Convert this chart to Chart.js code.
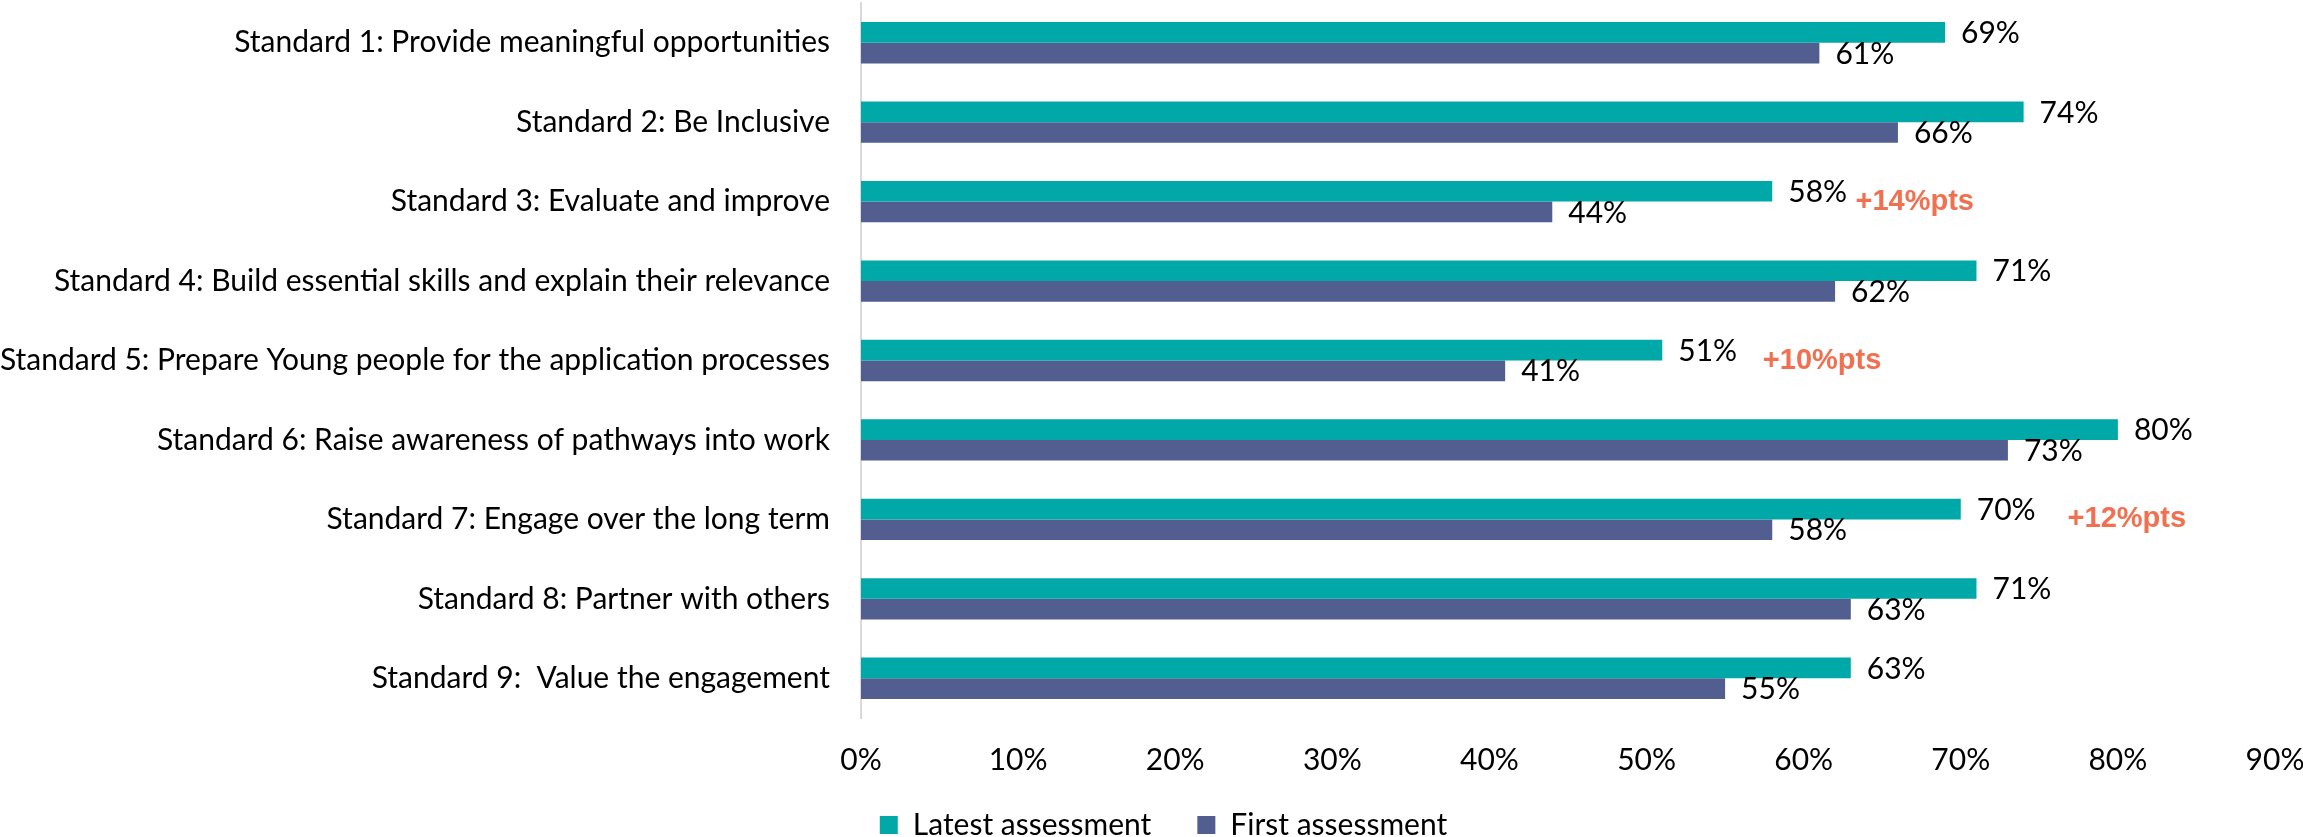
<!DOCTYPE html>
<html>
<head>
<meta charset="utf-8">
<script src="https://cdn.jsdelivr.net/npm/chart.js@4.4.1/dist/chart.umd.min.js"></script>
<style>
  html, body { margin: 0; padding: 0; background: #ffffff; }
  canvas { display: block; }
</style>
</head>
<body>
<canvas id="chart" width="2303" height="837"></canvas>
<script>
// categories (top to bottom)
const standards = [
    'Standard 1: Provide meaningful opportunities',
    'Standard 2: Be Inclusive',
    'Standard 3: Evaluate and improve',
    'Standard 4: Build essential skills and explain their relevance',
    'Standard 5: Prepare Young people for the application processes',
    'Standard 6: Raise awareness of pathways into work',
    'Standard 7: Engage over the long term',
    'Standard 8: Partner with others',
    'Standard 9:  Value the engagement',
];

// series values (%)
const latestAssessment = [69, 74, 58, 71, 51, 80, 70, 71, 63];
const firstAssessment = [61, 66, 44, 62, 41, 73, 58, 63, 55];

// x axis ticks
const tickValues = [0, 10, 20, 30, 40, 50, 60, 70, 80, 90];

// highlighted gains, placed at a category and an x value
const gainCategory = [2, 4, 6];
const gainText = ['+14%pts', '+10%pts', '+12%pts'];
const gainAt = [63.3, 57.4, 76.8];

const FONT = 'Lato, Carlito, Calibri, sans-serif';
const LEGEND_PAD = 46;

const valueLabels = {
    id: 'valueLabels',
    afterDatasetsDraw(chart) {
        const ctx = chart.ctx;
        ctx.save();
        ctx.font = '30px ' + FONT;
        ctx.fillStyle = '#000000';
        ctx.textAlign = 'left';
        ctx.textBaseline = 'middle';
        chart.data.datasets.forEach((ds, i) => {
            chart.getDatasetMeta(i).data.forEach((bar, j) => {
                ctx.fillText(ds.data[j] + '%', bar.x + 16, bar.y + 1);
            });
        });
        // gain annotations
        const xs = chart.scales.x, ys = chart.scales.y;
        ctx.font = 'bold 29px "Liberation Sans", Arial, sans-serif';
        ctx.fillStyle = '#F0704F';
        gainText.forEach((t, k) => {
            ctx.fillText(t, xs.getPixelForValue(gainAt[k]), ys.getPixelForValue(gainCategory[k]));
        });
        ctx.restore();
    }
};

// the big legend padding (for item spacing) also pushes it down, move it back
const legendNudge = {
    id: 'legendNudge',
    afterLayout(chart) {
        const lg = chart.legend;
        lg.top -= 16; lg.bottom -= 16;
        lg.left += 26; lg.right += 26;
    }
};

var ctx = document.getElementById('chart').getContext('2d');
var myChart = new Chart(ctx, {
    type: 'bar',
    data: {
        labels: standards,
        datasets: [
            {
                label: 'Latest assessment',
                data: latestAssessment,
                backgroundColor: '#00A9A8',
                categoryPercentage: 0.52,
                barPercentage: 1.0,
            },
            {
                label: 'First assessment',
                data: firstAssessment,
                backgroundColor: '#525E8F',
                categoryPercentage: 0.52,
                barPercentage: 1.0,
            },
        ],
    },
    options: {
        indexAxis: 'y',
        responsive: false,
        animation: false,
        layout: {
            padding: { top: 3, right: 28, left: 0, bottom: -29 },
        },
        scales: {
            x: {
                min: 0,
                max: 90,
                afterBuildTicks(scale) {
                    scale.ticks = tickValues.map(v => ({ value: v }));
                },
                ticks: {
                    callback: v => v + '%',
                    color: '#000000',
                    font: { family: FONT, size: 30 },
                    padding: 24,
                    maxRotation: 0,
                },
                grid: { display: false, drawTicks: false },
                border: { display: false },
                afterFit(scale) {
                    scale.height = 62;
                    scale.paddingLeft = 0;
                    scale.paddingRight = 0;
                },
            },
            y: {
                ticks: {
                    color: '#000000',
                    font: { family: FONT, size: 30 },
                    padding: 31,
                },
                grid: { display: false, drawTicks: false },
                border: { display: true, color: '#D9D9D9', width: 2 },
                afterFit(scale) {
                    scale.width = 861;
                    scale.paddingTop = 0;
                    scale.paddingBottom = 0;
                },
            },
        },
        plugins: {
            legend: {
                position: 'bottom',
                labels: {
                    color: '#000000',
                    font: { family: FONT, size: 30 },
                    boxWidth: 18,
                    boxHeight: 18,
                    padding: LEGEND_PAD,
                },
            },
            tooltip: { enabled: false },
        },
    },
    plugins: [valueLabels, legendNudge],
});
</script>
</body>
</html>
